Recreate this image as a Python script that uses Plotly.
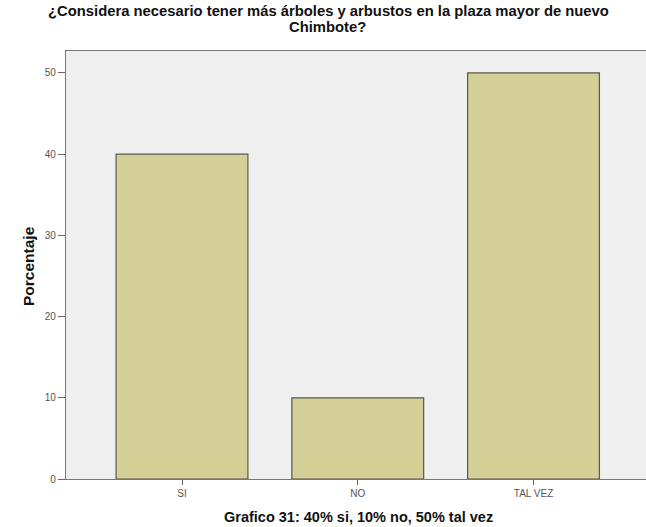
import plotly.graph_objects as go

categories = ["SI", "NO", "TAL VEZ"]
values = [40, 10, 50]
y_ticks = [0, 10, 20, 30, 40, 50]

W, H = 646, 527
L, R, T, B = 66, 0, 51, 48

fig = go.Figure()
fig.add_trace(go.Bar(
    x=categories, y=values, width=0.75,
    marker=dict(color="#d3cf96", line=dict(color="#5a5a4a", width=1.2)),
    hoverinfo="skip",
))

fig.update_layout(
    width=W, height=H,
    margin=dict(l=L, r=R, t=T, b=B),
    paper_bgcolor="white", plot_bgcolor="#efefef",
    font=dict(family="Liberation Sans, Arial, sans-serif"),
    showlegend=False,
)

fig.update_xaxes(
    range=[-0.66, 2.64], showgrid=False, zeroline=False,
    showline=True, linecolor="#777", linewidth=1.2, mirror=True,
    ticks="outside", ticklen=5, tickcolor="#666",
    tickfont=dict(size=10, color="#555"),
)
fig.update_yaxes(
    range=[0, 52.7], tickvals=y_ticks, showgrid=False, zeroline=False,
    showline=True, linecolor="#777", linewidth=1.2,
    ticks="outside", ticklen=7, tickcolor="#666",
    tickfont=dict(size=10, color="#555"),
)

def px_x(x):
    return (x - L) / (W - L - R)

def px_y(y):
    return (H - B - y) / (H - T - B)

title_font = dict(size=14.8, color="#111")
fig.add_annotation(
    text="<b>¿Considera necesario tener más árboles y arbustos en la plaza mayor de nuevo</b>",
    xref="paper", yref="paper", x=px_x(328), y=px_y(11), xanchor="center", yanchor="middle",
    showarrow=False, font=title_font,
)
fig.add_annotation(
    text="<b>Chimbote?</b>",
    xref="paper", yref="paper", x=px_x(327), y=px_y(27.5), xanchor="center", yanchor="middle",
    showarrow=False, font=title_font,
)
fig.add_annotation(
    text="<b>Porcentaje</b>",
    xref="paper", yref="paper", x=px_x(28), y=px_y(266), xanchor="center", yanchor="middle",
    showarrow=False, textangle=-90, font=dict(size=15.5, color="#111"),
)
fig.add_annotation(
    text="<b>Grafico 31: 40% si, 10% no, 50% tal vez</b>",
    xref="paper", yref="paper", x=px_x(358), y=px_y(517), xanchor="center", yanchor="middle",
    showarrow=False, font=dict(size=14.5, color="#111"),
)

fig.write_html("out.html", config={"displayModeBar": False},
               post_script="document.body.style.margin='0';")
